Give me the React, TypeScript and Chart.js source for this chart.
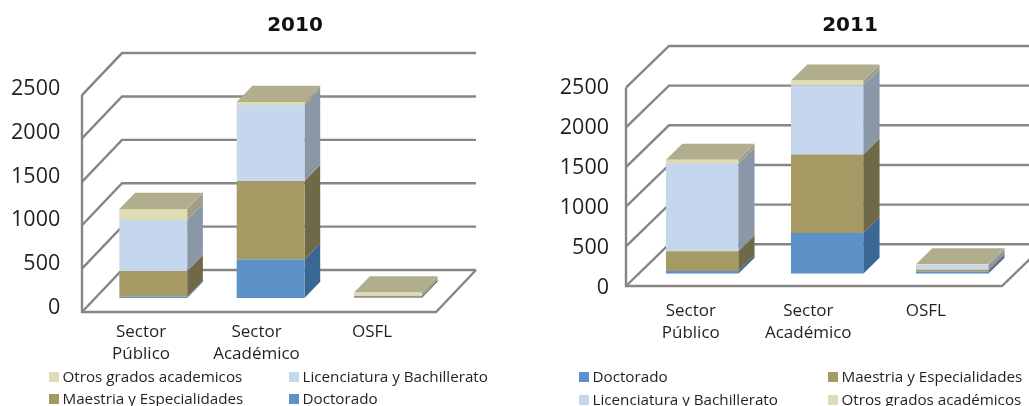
import React, { useEffect, useRef } from "react";
import { Chart, registerables } from "chart.js";

Chart.register(...registerables);

const categories = [["Sector", "Público"], ["Sector", "Académico"], ["OSFL"]];
const yTicks = [0, 500, 1000, 1500, 2000, 2500];

const doctorado2010 = [15, 443, 3];
const maestria2010 = [295, 905, 20];
const licenciatura2010 = [590, 875, 10];
const otros2010 = [125, 35, 30];

const doctorado2011 = [35, 515, 25];
const maestria2011 = [250, 990, 25];
const licenciatura2011 = [1105, 875, 60];
const otros2011 = [50, 60, 10];

const labelDoctorado = "Doctorado";
const labelMaestria = "Maestria y Especialidades";
const labelLicenciatura = "Licenciatura y Bachillerato";
const labelOtros2010 = "Otros grados academicos";
const labelOtros2011 = "Otros grados académicos";

const FRONT = ["#5D91C7", "#A69964", "#C5D7EC", "#E0DCB5"];
const SIDE = ["#3A6794", "#6F6947", "#8997A6", "#A09E84"];
const TOP = "#B1AE8E";
const WALL = "#868686";
const INK = "#231F20";
const SANS = "'Open Sans', sans-serif";

type Panel = {
  title: string;
  canvasLeft: number;
  canvasWidth: number;
  areaLeft: number;
  areaRight: number;
  areaTop: number;
  areaBottom: number;
  tickPadX: number;
  catPad: number;
  wallInsetL: number;
  wallInsetR: number;
  wallDX: number;
  wallDY: number;
  wallK: number;
  wallC: number;
  barKX: number;
  barTX: number;
  barKY: number;
  barTY: number;
  depthX: number;
  depthY: number;
  legendBoxes: number[];
  legendRows: number[];
  legendOrder: number[];
};

function makePlugin(p: Panel) {
  const mapX = (x: number) => p.barKX * x + p.barTX;
  const mapY = (y: number) => p.barKY * y + p.barTY;
  return {
    id: "depth3d",
    afterLayout(chart: any) {
      chart.titleBlock.left = 0;
      chart.titleBlock.right = chart.width;
    },
    beforeDatasetsDraw(chart: any) {
      const { ctx, chartArea, scales } = chart;
      const left = chartArea.left + p.wallInsetL;
      const right = chartArea.right + p.wallInsetR;
      const wallY = (v: number) => p.wallK * scales.y.getPixelForValue(v) + p.wallC;
      ctx.save();
      ctx.strokeStyle = WALL;
      ctx.lineWidth = 2.4;
      ctx.lineJoin = "miter";
      yTicks.forEach((v) => {
        const y = wallY(v);
        ctx.beginPath();
        ctx.moveTo(left, y);
        ctx.lineTo(left + p.wallDX, y + p.wallDY);
        ctx.lineTo(right + p.wallDX, y + p.wallDY);
        ctx.stroke();
      });
      const y0 = wallY(0);
      ctx.beginPath();
      ctx.moveTo(left, wallY(yTicks[yTicks.length - 1]));
      ctx.lineTo(left, y0);
      ctx.lineTo(right, y0);
      ctx.lineTo(right + p.wallDX, y0 + p.wallDY);
      ctx.stroke();

      // side and top faces, read from the bar elements
      const metas = chart.data.datasets.map((_: any, i: number) => chart.getDatasetMeta(i));
      metas.forEach((meta: any, di: number) => {
        meta.data.forEach((bar: any) => {
          const xr = mapX(bar.x + bar.width / 2);
          const yT = mapY(bar.y);
          const yB = mapY(bar.base);
          ctx.fillStyle = SIDE[di];
          ctx.beginPath();
          ctx.moveTo(xr, yB);
          ctx.lineTo(xr + p.depthX, yB + p.depthY);
          ctx.lineTo(xr + p.depthX, yT + p.depthY);
          ctx.lineTo(xr, yT);
          ctx.closePath();
          ctx.fill();
        });
      });
      metas[metas.length - 1].data.forEach((bar: any) => {
        const xl = mapX(bar.x - bar.width / 2);
        const xr = mapX(bar.x + bar.width / 2);
        const yT = mapY(bar.y);
        ctx.fillStyle = TOP;
        ctx.beginPath();
        ctx.moveTo(xl, yT);
        ctx.lineTo(xl + p.depthX, yT + p.depthY);
        ctx.lineTo(xr + p.depthX, yT + p.depthY);
        ctx.lineTo(xr, yT);
        ctx.closePath();
        ctx.fill();
      });
      ctx.restore();

      ctx.save();
      ctx.transform(p.barKX, 0, 0, p.barKY, p.barTX, p.barTY);
    },
    afterDatasetsDraw(chart: any) {
      chart.ctx.restore();
    },
    afterDraw(chart: any) {
      const { ctx } = chart;
      ctx.save();
      ctx.font = "15.2px " + SANS;
      ctx.textBaseline = "middle";
      ctx.textAlign = "left";
      p.legendOrder.forEach((di, i) => {
        const col = i % 2;
        const row = Math.floor(i / 2);
        const x = p.legendBoxes[col] - p.canvasLeft;
        const y = p.legendRows[row];
        ctx.fillStyle = FRONT[di];
        ctx.fillRect(x, y - 5, 10, 10);
        ctx.fillStyle = INK;
        ctx.fillText(chart.data.datasets[di].label, x + 13.5, y + 1);
      });
      ctx.restore();
    },
  };
}

function Panel3D({ p, series, labels }: { p: Panel; series: number[][]; labels: string[] }) {
  const ref = useRef<HTMLCanvasElement>(null);
  useEffect(() => {
    const height = 406;
    const chart = new Chart(ref.current as any, {
      type: "bar",
      data: {
        labels: categories as any,
        datasets: series.map((data, i) => ({
          label: labels[i],
          data,
          backgroundColor: FRONT[i],
          barPercentage: 0.578,
          categoryPercentage: 1,
          stack: "a",
        })),
      },
      plugins: [makePlugin(p) as any],
      options: {
        animation: false,
        responsive: false,
        events: [],
        layout: {
          padding: {
            left: 0,
            right: p.canvasWidth - (p.areaRight - p.canvasLeft),
            top: 0,
            bottom: 0,
          },
        },
        plugins: {
          legend: { display: false },
          tooltip: { enabled: false },
          title: {
            display: true,
            text: p.title,
            color: "#111111",
            font: { family: "'DejaVu Sans', sans-serif", size: 20, weight: "bold", lineHeight: 1.2 },
            padding: { top: 14, bottom: p.areaTop - 14 - 24 },
          },
        },
        scales: {
          x: {
            stacked: true,
            grid: { display: false, drawTicks: false },
            border: { display: false },
            ticks: {
              color: INK,
              font: { family: SANS, size: 17, lineHeight: 1.3 },
              maxRotation: 0,
              autoSkip: false,
              padding: p.catPad,
            },
            afterFit(scale: any) {
              scale.height = height - p.areaBottom;
            },
          },
          y: {
            stacked: true,
            min: 0,
            max: 2500,
            grid: { display: false, drawTicks: false },
            border: { display: false },
            afterBuildTicks(scale: any) {
              scale.ticks = yTicks.map((value) => ({ value }));
            },
            ticks: {
              color: INK,
              font: { family: SANS, size: 21.5 },
              padding: p.tickPadX,
              callback: (v: any) => String(v),
            },
            afterFit(scale: any) {
              scale.width = p.areaLeft - p.canvasLeft;
            },
          },
        },
      } as any,
    });
    return () => chart.destroy();
  }, []);
  return (
    <canvas
      ref={ref}
      width={p.canvasWidth}
      height={406}
      style={{ position: "absolute", left: p.canvasLeft, top: 0, width: p.canvasWidth, height: 406 }}
    />
  );
}

const panel2010: Panel = {
  title: "2010",
  canvasLeft: 0,
  canvasWidth: 590,
  areaLeft: 83.25,
  areaRight: 429.75,
  areaTop: 89,
  areaBottom: 307.7,
  tickPadX: 23,
  catPad: 13,
  wallInsetL: -1.25,
  wallInsetR: 6.25,
  wallDX: 40,
  wallDY: -42,
  wallK: 0.992,
  wallC: 6.76,
  barKX: 1.016,
  barTX: 10,
  barKY: 0.992,
  barTY: -7.25,
  depthX: 15.7,
  depthY: -16.2,
  legendBoxes: [49, 289],
  legendRows: [377, 399],
  legendOrder: [3, 2, 1, 0],
};

const panel2011: Panel = {
  title: "2011",
  canvasLeft: 529,
  canvasWidth: 642,
  areaLeft: 632,
  areaRight: 984.5,
  areaTop: 87.7,
  areaBottom: 288,
  tickPadX: 23,
  catPad: 12.5,
  wallInsetL: -6,
  wallInsetR: 17.5,
  wallDX: 43,
  wallDY: -41.7,
  wallK: 0.99,
  wallC: 0.88,
  barKX: 1.064,
  barTX: 1,
  barKY: 0.988,
  barTY: -10.84,
  depthX: 16.3,
  depthY: -16,
  legendBoxes: [579, 828],
  legendRows: [377, 400],
  legendOrder: [0, 1, 2, 3],
};

export default function App() {
  return (
    <div style={{ position: "fixed", left: 0, top: 0, width: 1029, height: 406, overflow: "hidden", background: "#fff" }}>
      <Panel3D
        p={panel2010}
        series={[doctorado2010, maestria2010, licenciatura2010, otros2010]}
        labels={[labelDoctorado, labelMaestria, labelLicenciatura, labelOtros2010]}
      />
      <Panel3D
        p={panel2011}
        series={[doctorado2011, maestria2011, licenciatura2011, otros2011]}
        labels={[labelDoctorado, labelMaestria, labelLicenciatura, labelOtros2011]}
      />
    </div>
  );
}
